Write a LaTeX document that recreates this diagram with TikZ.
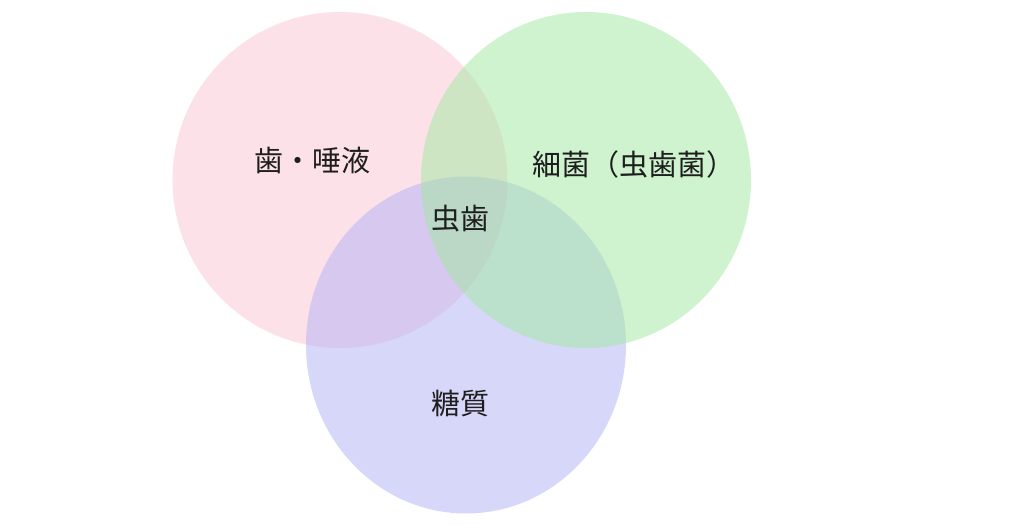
\documentclass[tikz,border=0pt]{standalone}
\usepackage{fontspec}
\newfontfamily\jpfont{Noto Sans CJK JP}
\definecolor{pinkc}{RGB}{251,197,213}
\definecolor{greenc}{RGB}{161,233,161}
\definecolor{bluec}{RGB}{177,177,245}
\definecolor{txtc}{RGB}{30,30,30}
\begin{document}
\begin{tikzpicture}[x=1pt,y=-1pt,
  setc/.style={fill opacity=0.5, draw=none},
  lbl/.style={font=\jpfont\fontsize{29}{31}\selectfont, text=txtc, inner sep=0pt}]
\useasboundingbox (0,0) rectangle (1024,532);
\fill[white] (0,0) rectangle (1024,532);
\fill[setc, pinkc] (340,180) ellipse [x radius=167.5, y radius=168];
\fill[setc, bluec] (466,345) ellipse [x radius=160, y radius=168.5];
\fill[setc, greenc] (586,180) ellipse [x radius=165, y radius=168];
\node[lbl] (a) at (312,160) {歯・唾液};
\node[lbl] (b) at (634,164) {細菌（虫歯菌）};
\node[lbl] (c) at (460,219) {虫歯};
\node[lbl] (d) at (460,404) {糖質};
\end{tikzpicture}
\end{document}
